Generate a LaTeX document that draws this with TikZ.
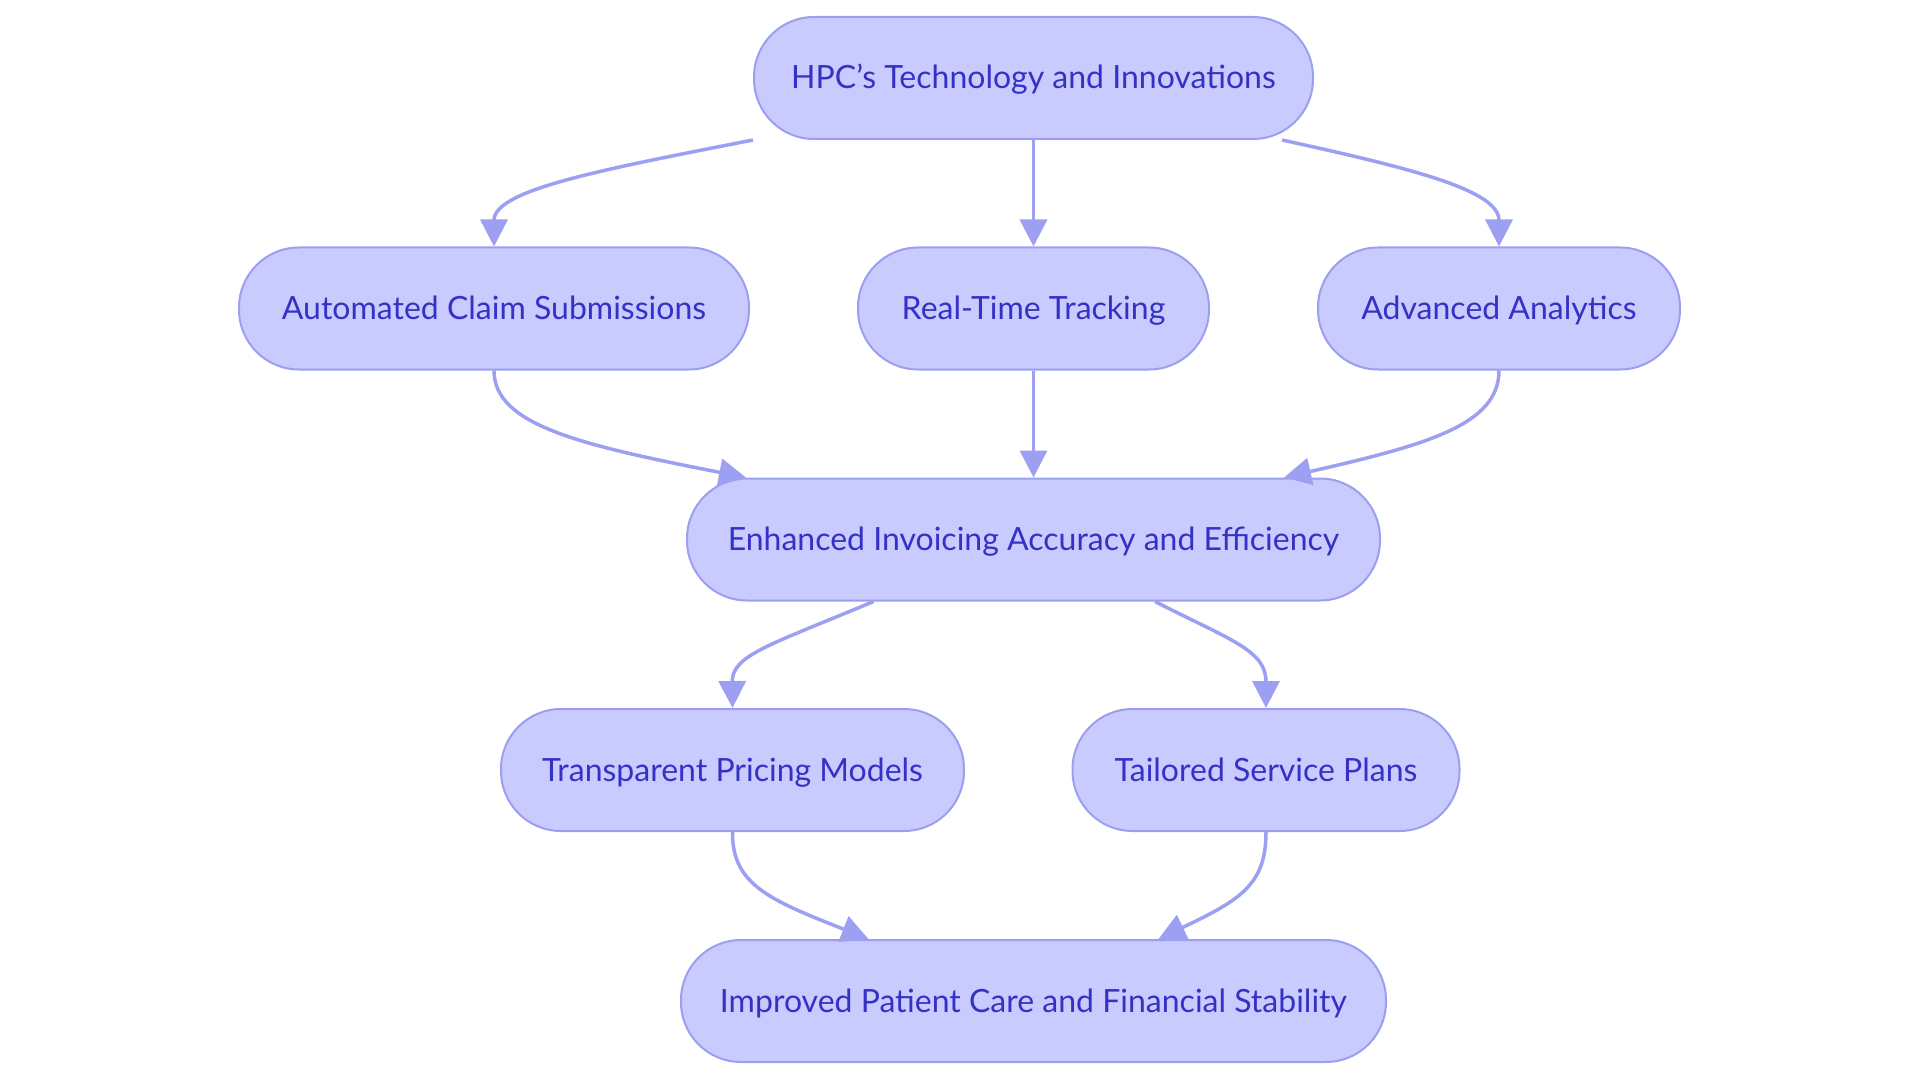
\documentclass[tikz,border=0pt]{standalone}
\usepackage{fontspec}
\setmainfont{Lato}
\usetikzlibrary{arrows.meta}
\definecolor{nodefill}{HTML}{C9CAFD}
\definecolor{nodeline}{HTML}{9B9FF0}
\definecolor{edgecol}{HTML}{9DA0F2}
\definecolor{txtcol}{HTML}{3432C6}
\tikzset{
  pill/.style={draw=nodeline, line width=2pt, fill=nodefill, rounded corners=60pt,
    minimum height=122pt, inner sep=0pt, text=txtcol,
    text height=28pt, text depth=6pt,
    font=\fontsize{32}{38}\selectfont},
  flow/.style={draw=edgecol, line width=3.5pt,
    -{Triangle[length=27pt,width=27pt]}}
}
\begin{document}
\begin{tikzpicture}[x=1pt,y=-1pt]
\useasboundingbox (0,0) rectangle (1920,1083);
\node[pill, minimum width=559pt] (top) at (1033.5,78) {HPC’s Technology and Innovations};
\node[pill, minimum width=510pt] (auto) at (494,308.5) {Automated Claim Submissions};
\node[pill, minimum width=351pt] (rt) at (1033.5,308.5) {Real-Time Tracking};
\node[pill, minimum width=362pt] (adv) at (1499,308.5) {Advanced Analytics};
\node[pill, minimum width=693pt] (enh) at (1033.5,539.5) {Enhanced Invoicing Accuracy and Efficiency};
\node[pill, minimum width=463pt] (tp) at (732.5,770) {Transparent Pricing Models};
\node[pill, minimum width=387pt] (ts) at (1266,770) {Tailored Service Plans};
\node[pill, minimum width=705pt] (imp) at (1033.5,1001) {Improved Patient Care and Financial Stability};

\draw[flow] (top.south west) .. controls (600,170) and (494,190) .. (auto.north);
\draw[flow] (top.south) -- (rt.north);
\draw[flow] ([xshift=-32pt]top.south east) .. controls (1410,168) and (1499,190) .. (adv.north);
\draw[flow] (auto.south) .. controls (494,425) and (580,445) .. ([xshift=60pt]enh.north west);
\draw[flow] (rt.south) -- (enh.north);
\draw[flow] (adv.south) .. controls (1499,425) and (1426,445) .. ([xshift=-97pt]enh.north east);
\draw[flow] ([xshift=-160pt]enh.south) .. controls (770,645) and (732,655) .. (tp.north);
\draw[flow] ([xshift=121.5pt]enh.south) .. controls (1230,640) and (1266,650) .. (ts.north);
\draw[flow] (tp.south) .. controls (732,885) and (770,900) .. ([xshift=-165pt]imp.north);
\draw[flow] (ts.south) .. controls (1266,885) and (1240,900) .. ([xshift=125pt]imp.north);
\end{tikzpicture}
\end{document}
